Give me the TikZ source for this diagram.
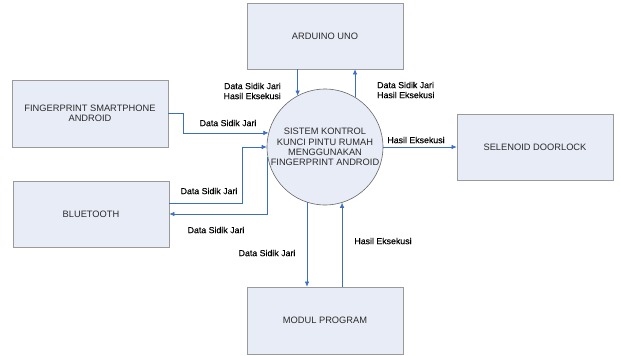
\documentclass[tikz,border=0pt]{standalone}
\usepackage{fontspec}
\setmainfont{Liberation Sans}
\newfontfamily\lblfont[FakeBold=0.5]{Liberation Sans}
\usetikzlibrary{arrows.meta,calc}
\definecolor{boxfill}{HTML}{E8ECF6}
\definecolor{boxline}{HTML}{9A9A9A}
\definecolor{arrblue}{HTML}{3C6EC2}
\definecolor{txtgray}{HTML}{2A2A2A}
\tikzset{
  entity/.style={draw=boxline, fill=boxfill, line width=0.8pt, minimum width=156pt, minimum height=66pt,
    inner sep=0pt, align=center, text=txtgray, font=\fontsize{9.3}{10.5}\selectfont},
  proc/.style={circle, draw=black!60, fill=boxfill, line width=0.6pt, minimum size=116pt, inner sep=0pt,
    align=center, text=txtgray, font=\fontsize{9.3}{10.3}\selectfont},
  arr/.style={draw=arrblue, line width=0.6pt, -{Latex[length=5pt,width=4.5pt]}},
  lbl/.style={inner sep=0pt, font=\lblfont\fontsize{8.8}{10}\selectfont, text=black},
}
\begin{document}
\begin{tikzpicture}[x=1pt,y=-1pt]
\useasboundingbox (0,0) rectangle (621,356);
% entities
\node[entity] (arduino) at (325,36) {ARDUINO UNO};
\node[entity, minimum height=67pt] (fp) at (90,113.5) {FINGERPRINT SMARTPHONE\\ANDROID};
\node[entity] (bt) at (91,214) {BLUETOOTH};
\node[entity] (sel) at (535,147) {SELENOID DOORLOCK};
\node[entity, minimum height=67pt] (mod) at (325,320.5) {MODUL PROGRAM};
\node[proc] (sys) at (325,147) {SISTEM KONTROL\\KUNCI PINTU RUMAH\\MENGGUNAKAN\\FINGERPRINT ANDROID};
% connectors
\draw[arr] (sys.118 |- arduino.south) -- (sys.118);
\draw[arr] (sys.59) -- (sys.59 |- arduino.south);
\draw[arr] (fp.east) -- ++(15,0) |- (sys.166);
\coordinate (btout) at ($(bt.east)+(0,-11)$);
\draw[arr] (btout) -- (242,203) |- (sys.west);
\draw[arr] (sys.190) |- (bt.east);
\draw[arr] (sys.252) -- (sys.252 |- mod.north);
\draw[arr] (sys.287 |- mod.north) -- (sys.287);
\draw[arr] (sys.east) -- (sel.west);
% labels
\node[lbl, anchor=east, align=right] (l1) at (281,91) {Data Sidik Jari\\Hasil Eksekusi};
\node[lbl, anchor=west, align=left] (l2) at (377,90) {Data Sidik Jari\\Hasil Eksekusi};
\node[lbl] (l3) at (228,123) {Data Sidik Jari};
\node[lbl] (l4) at (209,191) {Data Sidik Jari};
\node[lbl] (l5) at (216,230) {Data Sidik Jari};
\node[lbl] (l6) at (267,253) {Data Sidik Jari};
\node[lbl] (l7) at (383,241) {Hasil Eksekusi};
\node[lbl] (l8) at (416,140) {Hasil Eksekusi};
\end{tikzpicture}
\end{document}
